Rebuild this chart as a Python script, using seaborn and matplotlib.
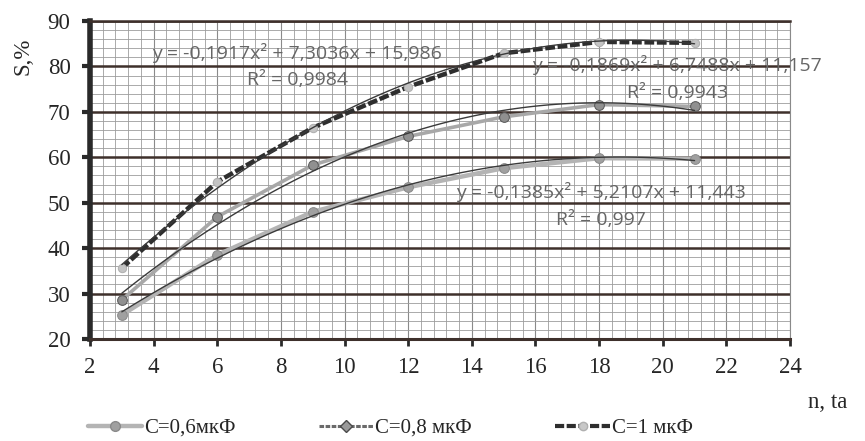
import numpy as np
import pandas as pd
import matplotlib
matplotlib.use("Agg")
import matplotlib.pyplot as plt
from matplotlib.ticker import MultipleLocator
from matplotlib.lines import Line2D
import seaborn as sns

# ---- data ----
n_values = [3, 6, 9, 12, 15, 18, 21]
s_c06 = [25.3, 38.5, 48.0, 53.4, 57.6, 59.8, 59.7]
s_c08 = [28.6, 46.9, 58.3, 64.6, 68.9, 71.6, 71.2]
s_c10 = [35.6, 54.6, 66.5, 75.5, 82.9, 85.4, 85.2]
series_labels = ["C=0,6мкФ", "C=0,8 мкФ", "C=1 мкФ"]
eq_texts = ["y = -0,1917x² + 7,3036x + 15,986",
            "y = -0,1869x² + 6,7488x + 11,157",
            "y = -0,1385x² + 5,2107x + 11,443"]
r2_texts = ["R² = 0,9984", "R² = 0,9943", "R² = 0,997"]
x_ticks = [2, 4, 6, 8, 10, 12, 14, 16, 18, 20, 22, 24]
y_ticks = [20, 30, 40, 50, 60, 70, 80, 90]

sns.set_theme(style="white")
plt.rcParams['font.family'] = ['Liberation Serif', 'DejaVu Serif']

df = pd.DataFrame({
    "n": n_values * 3,
    "S": s_c06 + s_c08 + s_c10,
    "series": [series_labels[0]] * 7 + [series_labels[1]] * 7 + [series_labels[2]] * 7,
})

fig = plt.figure(figsize=(8.65, 4.41), dpi=100)
ax = fig.add_axes([90 / 865, 1 - 339 / 441, 700 / 865, 318 / 441])

# grid
ax.set_xlim(2, 24)
ax.set_ylim(20, 90)
ax.set_xticks(x_ticks)
ax.set_yticks(y_ticks)
ax.xaxis.set_minor_locator(MultipleLocator(0.4))
ax.yaxis.set_minor_locator(MultipleLocator(2))
ax.grid(which="minor", axis="both", color="#9c9c9c", linewidth=0.6)
ax.grid(which="major", axis="x", color="#8a8a8a", linewidth=0.8)
ax.grid(which="major", axis="y", color="#3e302b", linewidth=1.8)
ax.set_axisbelow(True)

styles = {
    series_labels[0]: dict(color="#b4b4b4", lw=3.2, ls="-", marker="o", mfc="#a0a0a0", mec="#8a8a8a", ms=7),
    series_labels[1]: dict(color="#a8a8a8", lw=2.6, ls="-", marker="o", mfc="#909090", mec="#5a5a5a", ms=7),
    series_labels[2]: dict(color="#2e2e2e", lw=3.2, ls=(0, (2.2, 0.6)), marker="o", mfc="#c4c4c4", mec="#b0b0b0", ms=6),
}

for lab in series_labels:
    st = styles[lab]
    sub = df[df["series"] == lab]
    sns.lineplot(data=sub, x="n", y="S", ax=ax, color=st["color"], linewidth=st["lw"],
                 linestyle=st["ls"], marker=st["marker"], markerfacecolor=st["mfc"],
                 markeredgecolor=st["mec"], markersize=st["ms"], legend=False, zorder=3)
    sns.regplot(data=sub, x="n", y="S", ax=ax, order=2, ci=None, scatter=False, truncate=True,
                line_kws=dict(color="#3a3a3a", linewidth=1.0, zorder=4))

# equations
eq_font = dict(family=['Open Sans', 'DejaVu Sans'], size=14, color="#666666", ha="center", va="center", zorder=5)
ax.text(8.51, 83.0, eq_texts[0], **eq_font)
ax.text(8.51, 77.0, r2_texts[0], **eq_font)
ax.text(20.45, 80.3, eq_texts[1], clip_on=False, **eq_font)
ax.text(20.45, 74.2, r2_texts[1], **eq_font)
ax.text(18.07, 52.4, eq_texts[2], **eq_font)
ax.text(18.07, 46.2, r2_texts[2], **eq_font)

# spines and ticks
for side in ["top", "right"]:
    ax.spines[side].set_visible(True)
ax.spines["top"].set_color("#3e302b")
ax.spines["top"].set_linewidth(1.8)
ax.spines["right"].set_color("#8a8a8a")
ax.spines["right"].set_linewidth(0.8)
ax.spines["left"].set_color("#2a2a2a")
ax.spines["left"].set_linewidth(4)
ax.spines["bottom"].set_color("#3e302b")
ax.spines["bottom"].set_linewidth(2.2)
ax.tick_params(axis="y", which="major", direction="out", length=6, width=3, color="#2a2a2a",
               labelsize=16.5, pad=8, left=True)
ax.tick_params(axis="x", which="major", direction="out", length=5, width=2, color="#2a2a2a",
               labelsize=16.5, pad=8, bottom=True)
ax.tick_params(which="minor", length=0)
ax.set_xlabel("")
ax.set_ylabel("")

fig.text(23 / 865, 1 - 56 / 441, "S,%", rotation=90, ha="center", va="center", fontsize=16.5)
fig.text(808 / 865, 1 - 403 / 441, "n, ta", ha="left", va="center", fontsize=16.5)

# legend
handles = [
    Line2D([0], [0], color="#b4b4b4", lw=3.2, marker="o", mfc="#a0a0a0", mec="#8a8a8a", ms=7),
    Line2D([0], [0], color="#6a6a6a", lw=2.2, ls=(0, (1.5, 0.5)), marker="D", mfc="#9a9a9a", mec="#4a4a4a", ms=6),
    Line2D([0], [0], color="#2e2e2e", lw=3.0, ls=(0, (2.2, 0.6)), marker="o", mfc="#c8c8c8", mec="#b0b0b0", ms=6),
]
fig.legend(handles, series_labels, loc="center left", bbox_to_anchor=(88 / 865, 1 - 428 / 441),
           ncol=3, frameon=False, fontsize=15, handlelength=2.6, handletextpad=0.1,
           columnspacing=4.0, borderaxespad=0, borderpad=0)

fig.savefig("out.png", dpi=100, facecolor="white")
